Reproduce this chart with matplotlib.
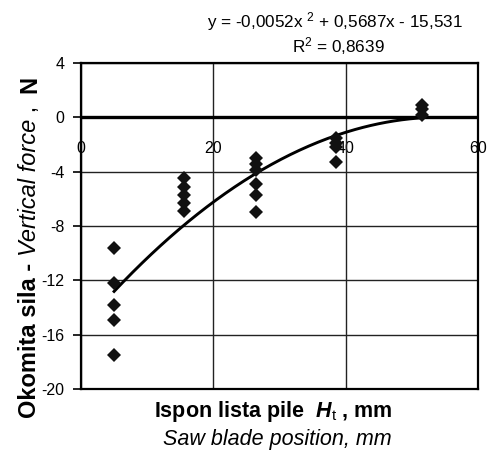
import numpy as np
import matplotlib.pyplot as plt

plt.rcParams['font.family'] = ['Liberation Sans', 'DejaVu Sans']
plt.rcParams['axes.unicode_minus'] = False
plt.rcParams['mathtext.fontset'] = 'custom'
plt.rcParams['mathtext.rm'] = 'Liberation Sans'
plt.rcParams['mathtext.it'] = 'Liberation Sans:italic'
plt.rcParams['mathtext.bf'] = 'Liberation Sans:bold'
plt.rcParams['mathtext.bfit'] = 'Liberation Sans:italic:bold'

# measured points (saw blade position, vertical force)
pos_mm = [5, 5, 5, 5, 5,
          15.5, 15.5, 15.5, 15.5, 15.5,
          26.5, 26.5, 26.5, 26.5, 26.5, 26.5,
          38.5, 38.5, 38.5, 38.5,
          51.5, 51.5, 51.5]
force_n = [-9.6, -12.2, -13.8, -14.9, -17.5,
           -4.5, -5.1, -5.7, -6.3, -6.9,
           -3.0, -3.4, -3.9, -4.9, -5.7, -7.0,
           -1.5, -1.9, -2.2, -3.3,
           0.9, 0.6, 0.2]

# polynomial trend line coefficients shown on the chart
trend_coef = [-0.0052, 0.5687, -15.531]
r_squared = "0,8639"

x_ticks = [0, 20, 40, 60]
y_ticks = [4, 0, -4, -8, -12, -16, -20]

fig = plt.figure(figsize=(4.9, 4.53), dpi=100)
ax = fig.add_axes([0.1653, 0.1413, 0.8102, 0.7196])

ax.set_xlim(0, 60)
ax.set_ylim(-20, 4)
ax.set_xticks(x_ticks)
ax.set_yticks(y_ticks)
ax.grid(True, color='#222222', lw=1.0)
ax.set_axisbelow(True)
ax.axhline(0, color='black', lw=2.4, zorder=2)

for s in ax.spines.values():
    s.set_linewidth(1.6)

ax.tick_params(axis='x', length=0, labelbottom=False)
ax.tick_params(axis='y', direction='out', length=6, width=1.2,
               labelsize=11.5, pad=6)

# x tick labels sit under the zero line
sec = ax.secondary_xaxis(20 / 24)
sec.set_xticks(x_ticks)
sec.xaxis.set_ticks_position('bottom')
for s in sec.spines.values():
    s.set_visible(False)
sec.tick_params(axis='x', length=0, labelsize=11.5, pad=17,
                labelbottom=True, labeltop=False)

# trend line over data range
xs = np.linspace(min(pos_mm), max(pos_mm), 200)
ax.plot(xs, np.polyval(trend_coef, xs), color='black', lw=2.1, zorder=3)

ax.plot(pos_mm, force_n, linestyle='none', marker='D', markersize=6.8,
        color='#111111', markeredgewidth=0, zorder=4)

# equation text
fig.text(335 / 490, 1 - 22 / 453,
         "y = -0,0052x $^{2}$ + 0,5687x - 15,531",
         ha='center', va='center', fontsize=12.3)
fig.text(338 / 490, 1 - 46 / 453, "R$^{2}$ = " + r_squared,
         ha='center', va='center', fontsize=12.3)

# x axis titles
fig.text(273 / 490, 1 - 412 / 453,
         r"Ispon lista pile  $\mathbfit{H}_{\mathrm{t}}$ , mm",
         ha='center', va='center', fontsize=15.5, fontweight='bold')
fig.text(277 / 490, 1 - 440 / 453, "Saw blade position, mm",
         ha='center', va='center', fontsize=15.5, style='italic')

# y axis title: mixed bold / italic pieces stacked bottom to top
renderer = fig.canvas.get_renderer()
ylab_parts = [("Okomita sila - ", {'fontweight': 'bold'}),
              ("Vertical force", {'style': 'italic'}),
              (" ,  ", {}),
              ("N", {'fontweight': 'bold'})]
pieces = []
for txt, kw in ylab_parts:
    t = fig.text(0, 0, txt, rotation=90, rotation_mode='anchor',
                 ha='left', va='baseline', fontsize=17, **kw)
    pieces.append(t)
lengths = [t.get_window_extent(renderer).height for t in pieces]
y_px = (453 - 247) - sum(lengths) / 2
for t, l in zip(pieces, lengths):
    t.set_position((36 / 490, y_px / 453))
    y_px += l

fig.savefig("out.png", dpi=100)
